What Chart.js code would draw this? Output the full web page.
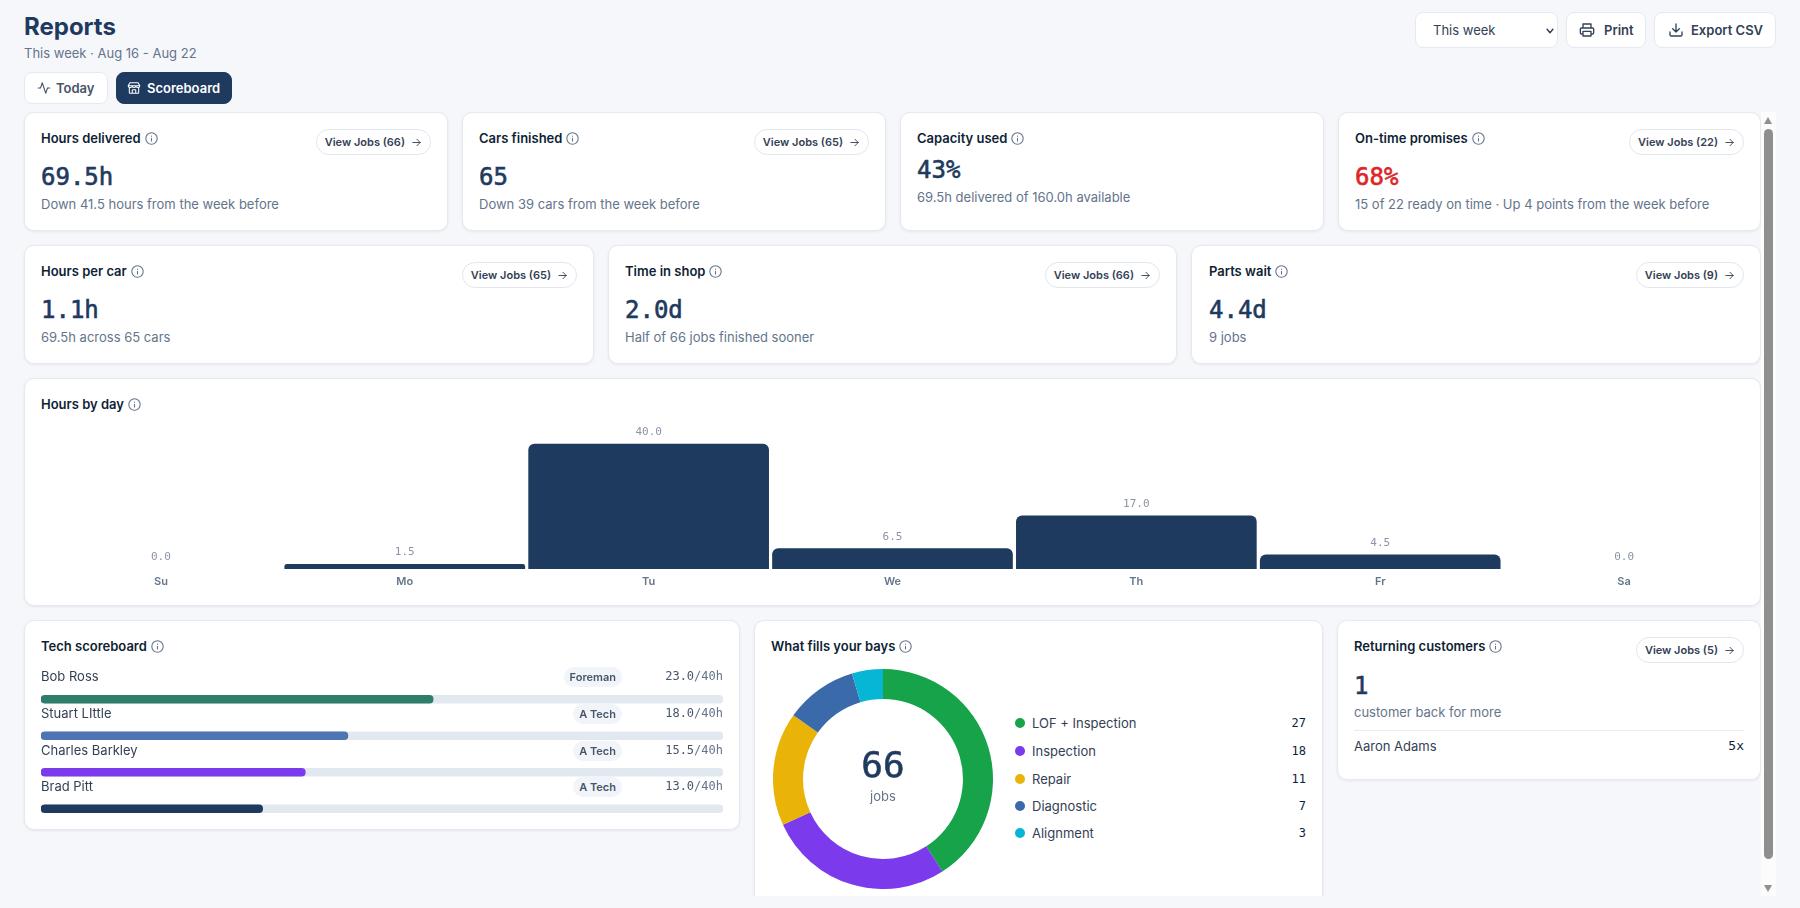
<!DOCTYPE html>
<html>
<head>
<meta charset="utf-8">
<title>Reports</title>
<script src="https://cdn.jsdelivr.net/npm/chart.js@4"></script>
<style>
  * { box-sizing: border-box; }
  html, body { margin: 0; width: 1800px; height: 908px; overflow: hidden; background: #f6f7fb; }
  body { font-family: Inter, sans-serif; color: #0f1f35; position: relative; }
  .abs, .t { position: absolute; white-space: nowrap; }
  .t { line-height: 20px; }
  .mono { font-family: "DejaVu Sans Mono", monospace; }
  .big { font-weight: 400; -webkit-text-stroke: 0.6px currentColor; }
  .card { position: absolute; background: #fff; border: 1px solid #e6e9ef; border-radius: 10px; box-shadow: 0 1px 3px rgba(15,31,53,.07); }
  .title { left: 16px; top: 15px; font-size: 13px; font-weight: 600; display: flex; align-items: center; gap: 4px; }
  .title svg { width: 13px; height: 13px; stroke: #64748b; }
  .value { left: 16px; top: 54px; font-size: 24px; line-height: 20px; color: #1e3a5f; }
  .sub { left: 16px; top: 81px; font-size: 13px; color: #64748b; }
  .value.tight { top: 47px; }
  .sub.tight { top: 74px; }
  .jobs { position: absolute; right: 16px; top: 16px; height: 26px; padding: 0 8px; border: 1px solid #e2e6ed; border-radius: 13px; background: #fff; display: flex; align-items: center; gap: 6px; font-size: 11px; font-weight: 600; color: #334155; white-space: nowrap; }
  .jobs svg { width: 11px; height: 11px; stroke: #334155; }
  .btn { position: absolute; background: #fff; border: 1px solid #e6e9ef; border-radius: 8px; display: flex; align-items: center; font-size: 13px; font-weight: 600; color: #334155; white-space: nowrap; }
  .btn svg { stroke: #334155; width: 16px; height: 16px; }
  svg { fill: none; stroke-width: 2; stroke-linecap: round; stroke-linejoin: round; }
  canvas { position: absolute; }
  .badge { position: absolute; height: 20px; line-height: 20px; border-radius: 10px; padding: 0 6px; background: #f1f5f9; font-size: 11px; font-weight: 600; color: #475569; }
  .dot { position: absolute; width: 10px; height: 10px; border-radius: 50%; }
</style>
</head>
<body>

<svg width="0" height="0" style="position:absolute">
  <symbol id="i-info" viewBox="0 0 24 24"><circle cx="12" cy="12" r="10.5"/><path d="M12 16.5v-5M12 7.6v.1"/></symbol>
  <symbol id="i-arrow" viewBox="0 0 24 24"><path d="M4 12h16M13 5l7 7-7 7"/></symbol>
  <symbol id="i-activity" viewBox="0 0 24 24"><path d="M22 12h-4l-3 9L9 3l-3 9H2"/></symbol>
  <symbol id="i-store" viewBox="0 0 24 24"><path d="M2 8l3-5h14l3 5M2 8c0 2 2 3 3.500 3S9 10 9 8c0 2 1.500 3 3 3s3-1 3-3c0 2 2 3 3.500 3S22 10 22 8M2 8h20M4 11v9a1 1 0 0 0 1 1h14a1 1 0 0 0 1-1v-9M9 21v-5a1 1 0 0 1 1-1h4a1 1 0 0 1 1 1v5"/></symbol>
  <symbol id="i-print" viewBox="0 0 24 24"><path d="M6 9V3h12v6M6 18H4a2 2 0 0 1-2-2v-5a2 2 0 0 1 2-2h16a2 2 0 0 1 2 2v5a2 2 0 0 1-2 2h-2M6 14h12v7H6z"/></symbol>
  <symbol id="i-down" viewBox="0 0 24 24"><path d="M3 15v4a2 2 0 0 0 2 2h14a2 2 0 0 0 2-2v-4M7 10l5 5 5-5M12 15V3"/></symbol>
  <symbol id="i-chev" viewBox="0 0 24 24"><path d="M5 8l7 8 7-8"/></symbol>
</svg>

<!-- header -->
<div class="t" style="left:24px;top:16px;font-size:24px;font-weight:700;color:#1e3a5f;line-height:22px">Reports</div>
<div class="t" style="left:24px;top:43px;font-size:13px;color:#64748b">This week · Aug 16 - Aug 22</div>

<div class="btn" style="left:24px;top:72px;width:84px;height:32px;color:#475569">
  <svg style="position:absolute;left:12px;width:14px;height:14px;stroke:#475569;stroke-width:1.8"><use href="#i-activity"/></svg>
  <span style="position:absolute;left:31px">Today</span>
</div>
<div class="btn" style="left:116px;top:72px;width:116px;height:32px;background:#1e3a5f;border-color:#1e3a5f;color:#fff">
  <svg style="position:absolute;left:10px;width:14px;height:14px;stroke:#fff;stroke-width:1.8"><use href="#i-store"/></svg>
  <span style="position:absolute;left:30px">Scoreboard</span>
</div>

<div class="btn" style="left:1415px;top:12px;width:143px;height:36px;font-weight:400">
  <span style="position:absolute;left:17px">This week</span>
  <svg style="position:absolute;left:128px;top:13px;width:12px;height:10px;stroke-width:3.5;stroke:#334155"><use href="#i-chev"/></svg>
</div>
<div class="btn" style="left:1566px;top:12px;width:80px;height:36px">
  <svg style="position:absolute;left:12px"><use href="#i-print"/></svg>
  <span style="position:absolute;left:37px">Print</span>
</div>
<div class="btn" style="left:1654px;top:12px;width:122px;height:36px">
  <svg style="position:absolute;left:13px"><use href="#i-down"/></svg>
  <span style="position:absolute;left:36px">Export CSV</span>
</div>

<!-- cards -->
<div id="area" class="abs" style="left:0;top:0;width:1800px;height:896px;overflow:hidden">

  <div class="card" style="left:24px;top:112px;width:424px;height:119px">
    <div class="t title">Hours delivered <svg><use href="#i-info"/></svg></div>
    <a class="jobs">View Jobs (66) <svg><use href="#i-arrow"/></svg></a>
    <div class="t value mono big">69.5h</div>
    <div class="t sub">Down 41.5 hours from the week before</div>
  </div>
  <div class="card" style="left:462px;top:112px;width:424px;height:119px">
    <div class="t title">Cars finished <svg><use href="#i-info"/></svg></div>
    <a class="jobs">View Jobs (65) <svg><use href="#i-arrow"/></svg></a>
    <div class="t value mono big">65</div>
    <div class="t sub">Down 39 cars from the week before</div>
  </div>
  <div class="card" style="left:900px;top:112px;width:424px;height:119px">
    <div class="t title">Capacity used <svg><use href="#i-info"/></svg></div>
    <div class="t value mono big tight">43%</div>
    <div class="t sub tight">69.5h delivered of 160.0h available</div>
  </div>
  <div class="card" style="left:1338px;top:112px;width:423px;height:119px">
    <div class="t title">On-time promises <svg><use href="#i-info"/></svg></div>
    <a class="jobs">View Jobs (22) <svg><use href="#i-arrow"/></svg></a>
    <div class="t value mono big" style="color:#dc2626">68%</div>
    <div class="t sub">15 of 22 ready on time · Up 4 points from the week before</div>
  </div>

  <div class="card" style="left:24px;top:245px;width:570px;height:119px">
    <div class="t title">Hours per car <svg><use href="#i-info"/></svg></div>
    <a class="jobs">View Jobs (65) <svg><use href="#i-arrow"/></svg></a>
    <div class="t value mono big">1.1h</div>
    <div class="t sub">69.5h across 65 cars</div>
  </div>
  <div class="card" style="left:608px;top:245px;width:569px;height:119px">
    <div class="t title">Time in shop <svg><use href="#i-info"/></svg></div>
    <a class="jobs">View Jobs (66) <svg><use href="#i-arrow"/></svg></a>
    <div class="t value mono big">2.0d</div>
    <div class="t sub">Half of 66 jobs finished sooner</div>
  </div>
  <div class="card" style="left:1191px;top:245px;width:570px;height:119px">
    <div class="t title" style="left:17px">Parts wait <svg><use href="#i-info"/></svg></div>
    <a class="jobs">View Jobs (9) <svg><use href="#i-arrow"/></svg></a>
    <div class="t value mono big" style="left:17px">4.4d</div>
    <div class="t sub" style="left:17px">9 jobs</div>
  </div>

  <div class="card" style="left:24px;top:378px;width:1737px;height:228px">
    <div class="t title">Hours by day <svg><use href="#i-info"/></svg></div>
  </div>

  <div class="card" style="left:24px;top:620px;width:716px;height:210px">
    <div class="t title">Tech scoreboard <svg><use href="#i-info"/></svg></div>
  </div>

  <div class="card" style="left:754px;top:620px;width:569px;height:300px">
    <div class="t title">What fills your bays <svg><use href="#i-info"/></svg></div>
  </div>

  <div class="card" style="left:1337px;top:620px;width:424px;height:160px">
    <div class="t title">Returning customers <svg><use href="#i-info"/></svg></div>
    <a class="jobs">View Jobs (5) <svg><use href="#i-arrow"/></svg></a>
    <div class="t value mono big" style="top:55px">1</div>
    <div class="t sub" style="top:81px">customer back for more</div>
    <div class="abs" style="left:16px;right:16px;top:109px;height:1px;background:#e9edf2"></div>
    <div class="t" style="left:16px;top:115px;font-size:13px;color:#334155">Aaron Adams</div>
    <div class="t mono" style="right:16px;top:115px;font-size:13px;color:#0f1f35">5x</div>
  </div>

  <canvas id="dayChart" width="1707" height="176" style="left:39px;top:419px"></canvas>
  <canvas id="techChart" width="682" height="146" style="left:41px;top:681px"></canvas>
  <canvas id="bayChart" width="220" height="220" style="left:773px;top:669px"></canvas>

  <div class="t mono big" style="left:773px;width:220px;text-align:center;top:750px;line-height:30px;font-size:36px;color:#1e3a5f">66</div>
  <div class="t" style="left:773px;width:220px;text-align:center;top:786px;font-size:13px;color:#64748b">jobs</div>

  <div id="techRows"></div>
  <div id="bayLegend"></div>
</div>

<!-- scrollbar -->
<div class="abs" style="left:1761px;top:112px;width:15px;height:784px;background:#fcfcfd"></div>
<div class="abs" style="left:1764px;top:129px;width:9px;height:730px;border-radius:5px;background:#8f8f8f"></div>
<div class="abs" style="left:1764px;top:117px;width:0;height:0;border-left:4.5px solid transparent;border-right:4.5px solid transparent;border-bottom:7px solid #8f8f8f"></div>
<div class="abs" style="left:1764px;top:885px;width:0;height:0;border-left:4.5px solid transparent;border-right:4.5px solid transparent;border-top:7px solid #8f8f8f"></div>

<script>
// hours by day
const dayLabels = ['Su', 'Mo', 'Tu', 'We', 'Th', 'Fr', 'Sa'];
const dayHours = [0, 1.5, 40, 6.5, 17, 4.5, 0];
const dayAxisMax = 48;

// tech scoreboard
const techNames = ['Bob Ross', 'Stuart LIttle', 'Charles Barkley', 'Brad Pitt'];
const techRoles = ['Foreman', 'A Tech', 'A Tech', 'A Tech'];
const techHours = [23, 18, 15.5, 13];
const techCapacity = [40, 40, 40, 40];
const techColors = ['#2f7d6b', '#4f74b3', '#7c3aed', '#1e3a5f'];

// what fills your bays
const bayLabels = ['LOF + Inspection', 'Inspection', 'Repair', 'Diagnostic', 'Alignment'];
const bayCounts = [27, 18, 11, 7, 3];
const bayColors = ['#16a34a', '#7c3aed', '#eab308', '#3b6aab', '#06b6d4'];

// numbers over the bars
const barValues = {
  id: 'barValues',
  afterDatasetsDraw(chart) {
    const ctx = chart.ctx;
    ctx.save();
    ctx.font = '11px "DejaVu Sans Mono", monospace';
    ctx.fillStyle = '#8a94a6';
    ctx.textAlign = 'center';
    ctx.textBaseline = 'middle';
    chart.getDatasetMeta(0).data.forEach((bar, i) => {
      ctx.fillText(dayHours[i].toFixed(1), bar.x, bar.y - 12);
    });
    ctx.restore();
  }
};

new Chart(document.getElementById('dayChart'), {
  type: 'bar',
  data: {
    labels: dayLabels,
    datasets: [{
      data: dayHours,
      // a zero bar would still leave a hairline on the baseline
      backgroundColor: c => (c.raw > 0 ? '#1e3a5f' : 'transparent'),
      barThickness: 240,
      borderRadius: { topLeft: 6, topRight: 6 }
    }]
  },
  options: {
    responsive: false,
    animation: false,
    plugins: { legend: { display: false }, tooltip: { enabled: false } },
    scales: {
      x: {
        border: { display: false },
        grid: { display: false, drawTicks: false },
        ticks: { color: '#64748b', padding: 6, maxRotation: 0, font: { family: 'Inter', size: 11, weight: '600' } },
        afterFit: scale => { scale.height = 26; }
      },
      y: { display: false, min: 0, max: dayAxisMax }
    }
  },
  plugins: [barValues]
});

new Chart(document.getElementById('techChart'), {
  type: 'bar',
  data: {
    labels: techNames,
    datasets: [
      { data: techHours, backgroundColor: techColors, order: 1 },
      { data: techCapacity, backgroundColor: '#e2e8f0', order: 2 }
    ]
  },
  options: {
    indexAxis: 'y',
    responsive: false,
    animation: false,
    datasets: { bar: { grouped: false, barThickness: 8, borderRadius: 4, borderSkipped: false } },
    plugins: { legend: { display: false }, tooltip: { enabled: false } },
    scales: {
      x: { display: false, min: 0, max: 40 },
      y: { display: false }
    }
  }
});

new Chart(document.getElementById('bayChart'), {
  type: 'doughnut',
  data: {
    labels: bayLabels,
    datasets: [{ data: bayCounts, backgroundColor: bayColors, borderWidth: 0 }]
  },
  options: {
    responsive: false,
    animation: false,
    cutout: '72.7%',
    plugins: { legend: { display: false }, tooltip: { enabled: false } }
  }
});

// text rows next to the charts
const techRows = document.getElementById('techRows');
const techTextTops = [666, 703, 740, 776];
techNames.forEach((name, i) => {
  const top = techTextTops[i];
  const rowText = document.createElement('div');
  rowText.innerHTML =
    `<div class="t" style="left:41px;top:${top}px;font-size:13px;color:#334155">${name}</div>` +
    `<div class="badge" style="right:${1800 - 622}px;top:${top + 1}px">${techRoles[i]}</div>` +
    `<div class="t mono" style="right:${1800 - 723}px;top:${top}px;font-size:12px;color:#475569">` +
    `${techHours[i].toFixed(1)}<span style="color:#64748b">/${techCapacity[i]}h</span></div>`;
  techRows.appendChild(rowText);
});

const bayLegend = document.getElementById('bayLegend');
const legendTops = [723, 751, 779, 806, 833];
bayLabels.forEach((label, i) => {
  const top = legendTops[i];
  const row = document.createElement('div');
  row.innerHTML =
    `<div class="dot" style="left:1015px;top:${top - 5}px;background:${bayColors[i]}"></div>` +
    `<div class="t" style="left:1032px;top:${top - 10}px;font-size:13px;color:#334155">${label}</div>` +
    `<div class="t mono" style="right:${1800 - 1306}px;top:${top - 10}px;font-size:12px;color:#0f1f35">${bayCounts[i]}</div>`;
  bayLegend.appendChild(row);
});
</script>
</body>
</html>
